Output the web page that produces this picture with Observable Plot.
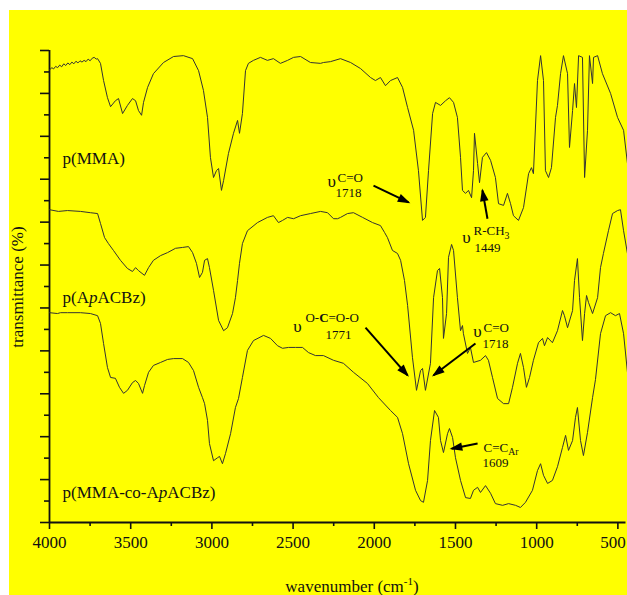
<!DOCTYPE html>
<html><head><meta charset="utf-8">
<script src="https://cdn.jsdelivr.net/npm/d3@7"></script>
<script src="https://cdn.jsdelivr.net/npm/@observablehq/plot@0.6"></script>
<style>
html,body{margin:0;padding:0;background:#fff;}
#wrap{position:relative;width:627px;height:595px;overflow:hidden;font-family:'Liberation Serif','Times New Roman',serif;color:#111;}
#bg{position:absolute;left:9px;top:10px;width:618px;height:585px;background:#ffff00;}
#chart{position:absolute;left:0;top:0;}
#ylab{position:absolute;left:18px;top:287px;transform:translate(-50%,-50%) rotate(-90deg);white-space:nowrap;font-size:17px;}
#xlab{position:absolute;left:352px;top:586px;transform:translate(-50%,-50%);white-space:nowrap;font-size:17px;}
#xlab sup{font-size:11px;}
</style></head><body>
<div id="wrap"><div id="bg"></div><div id="chart"></div>
<div id="ylab">transmittance (%)</div>
<div id="xlab">wavenumber (cm<sup>-1</sup>)</div>
</div>
<script>
// ---- data: [wavenumber (cm-1), transmittance (offset, a.u.)] ----
const pMMA = [[4000,105.5],[3985,106.0],[3975,105.7],[3962,106.3],[3950,106.0],[3937,106.6],[3925,106.2],[3912,106.9],[3900,106.5],[3887,107.1],[3875,106.7],[3862,107.3],[3850,106.9],[3837,107.5],[3825,107.1],[3812,107.6],[3800,107.3],[3787,107.7],[3775,107.4],[3762,108.0],[3750,107.6],[3737,108.2],[3725,108.4],[3712,108.0],[3704,108.1],
[3686,107.0],[3667,103.0],[3643,99.0],[3624,96.9],[3594,98.3],[3575,98.8],[3550,95.3],[3520,97.2],[3489,98.8],[3470,98.3],[3452,96.0],[3433,94.9],[3421,97.9],[3396,101.4],[3360,104.6],[3298,107.2],[3236,108.6],[3175,108.8],[3119,108.1],[3082,105.3],[3052,100.7],[3027,94.4],[3009,85.1],[2990,80.4],[2972,82.0],[2959,82.5],[2941,77.4],[2928,79.7],[2898,86.0],[2867,90.7],[2842,93.7],[2830,90.7],[2812,95.3],[2793,105.3],[2775,107.0],[2744,107.7],[2701,108.4],[2658,107.7],[2621,108.1],[2578,107.0],[2534,107.7],[2497,108.4],[2454,108.6],[2393,107.2],[2331,107.0],[2313,107.2],[2270,107.4],[2208,108.1],[2146,107.2],[2085,105.8],[2023,103.7],[1993,103.0],[1962,103.7],[1931,101.8],[1900,103.0],[1857,103.7],[1826,101.4],[1795,96.7],[1758,91.4],[1728,82.0],[1703,70.4],[1685,71.1],[1666,82.0],[1641,95.3],[1623,97.9],[1592,97.2],[1561,98.3],[1537,99.0],[1512,97.9],[1488,94.4],[1469,85.1],[1457,77.4],[1438,76.7],[1420,77.4],[1401,75.7],[1389,82.0],[1383,90.7],[1364,83.7],[1352,79.2],[1334,85.1],[1309,86.2],[1284,84.4],[1254,80.4],[1235,74.3],[1204,73.9],[1180,76.7],[1161,74.3],[1143,71.5],[1112,70.4],[1081,73.4],[1050,81.3],[1032,82.7],[1020,81.3],[995,103.0],[976,108.8],[958,103.0],[946,82.0],[927,80.4],[909,82.7],[884,94.4],[872,97.2],[853,104.6],[835,108.8],[810,104.6],[798,87.4],[779,96.0],[767,102.3],[755,96.7],[742,108.8],[718,108.4],[705,80.4],[687,91.4],[675,108.8],[656,102.3],[650,108.4],[625,108.8],[595,104.6],[545,100.0],[502,94.4],[465,91.4],[441,83.7]];

const pApACBz = [[4000,72.9],[3945,72.5],[3889,72.7],[3809,72.5],[3748,72.2],[3704,72.0],[3686,69.7],[3661,66.4],[3637,65.0],[3606,63.4],[3563,61.1],[3520,59.2],[3489,58.5],[3470,59.4],[3452,58.7],[3415,57.6],[3390,59.4],[3360,61.1],[3316,62.2],[3273,62.9],[3224,63.9],[3181,64.1],[3144,64.3],[3119,62.9],[3095,60.4],[3076,57.1],[3058,58.3],[3045,61.1],[3027,61.5],[3015,59.4],[2990,54.1],[2959,47.1],[2928,44.7],[2904,45.4],[2873,48.7],[2855,52.4],[2842,56.4],[2830,60.4],[2812,65.0],[2781,68.0],[2719,69.9],[2658,71.1],[2621,71.5],[2590,69.9],[2565,70.4],[2534,71.1],[2497,70.8],[2454,71.5],[2393,72.0],[2331,72.5],[2288,72.2],[2251,70.8],[2226,70.8],[2208,71.1],[2165,72.0],[2128,72.2],[2072,71.1],[2011,69.9],[1962,69.2],[1937,67.6],[1919,66.4],[1888,63.4],[1857,62.7],[1838,61.1],[1814,56.4],[1795,50.6],[1765,38.5],[1740,30.8],[1715,35.4],[1703,35.9],[1685,30.8],[1654,37.1],[1635,52.4],[1611,58.7],[1598,59.2],[1580,52.4],[1574,42.9],[1555,48.7],[1543,61.8],[1524,64.8],[1512,63.4],[1488,52.4],[1469,44.7],[1457,45.9],[1451,44.0],[1426,39.4],[1408,40.8],[1389,37.3],[1346,37.8],[1315,38.9],[1297,37.8],[1272,33.8],[1241,28.9],[1204,27.7],[1173,27.7],[1149,31.5],[1118,37.1],[1100,39.4],[1081,36.1],[1063,31.5],[1044,33.8],[1020,37.8],[989,41.9],[964,42.9],[952,41.2],[933,43.1],[903,41.9],[872,44.7],[841,49.4],[829,48.2],[810,45.4],[779,49.4],[767,56.4],[749,61.5],[736,52.4],[718,42.4],[705,48.7],[693,52.9],[681,51.3],[656,48.7],[625,52.4],[607,59.4],[589,62.7],[558,68.0],[533,72.0],[502,72.7],[484,72.9],[465,68.0],[441,62.7]];

const pCopolymer = [[4000,48.9],[3951,48.7],[3932,48.9],[3889,48.9],[3809,48.9],[3748,48.7],[3704,48.2],[3686,46.4],[3667,41.7],[3643,36.1],[3624,33.8],[3594,33.6],[3569,31.5],[3544,30.1],[3520,30.8],[3489,32.6],[3470,33.1],[3452,32.4],[3427,30.1],[3415,31.9],[3390,35.0],[3360,36.6],[3316,37.3],[3273,38.0],[3236,38.2],[3181,38.2],[3144,37.3],[3113,35.4],[3082,31.5],[3058,29.1],[3045,27.7],[3027,23.8],[3015,18.4],[2990,14.4],[2965,15.1],[2953,15.4],[2935,13.7],[2916,16.1],[2885,20.7],[2855,26.8],[2836,28.9],[2812,33.8],[2781,40.1],[2744,42.4],[2682,43.6],[2639,42.9],[2596,41.2],[2565,40.6],[2528,40.8],[2485,40.8],[2442,40.8],[2405,39.6],[2362,38.9],[2313,38.9],[2251,37.8],[2190,37.1],[2128,35.0],[2042,32.4],[1974,29.1],[1900,26.1],[1857,24.5],[1826,20.7],[1789,13.7],[1746,7.5],[1715,5.1],[1697,4.7],[1672,9.8],[1654,19.1],[1629,26.1],[1605,24.5],[1592,19.1],[1574,16.3],[1549,20.7],[1537,21.9],[1518,19.8],[1500,15.1],[1469,9.8],[1438,5.8],[1408,5.6],[1389,7.5],[1364,8.2],[1346,7.0],[1315,8.6],[1284,6.8],[1254,4.4],[1210,4.0],[1173,4.4],[1130,4.0],[1100,3.5],[1069,4.7],[1026,7.5],[995,12.1],[976,13.7],[958,11.0],[933,9.1],[903,9.8],[872,13.0],[841,17.5],[822,20.3],[804,16.8],[779,19.1],[761,24.5],[749,26.8],[730,19.1],[712,15.6],[687,21.0],[656,29.1],[638,33.3],[607,44.0],[576,48.2],[545,48.9],[515,48.2],[490,48.7],[465,44.0],[441,35.0]];

const seriesNames = ["p(MMA)", "p(ApACBz)", "p(MMA-co-ApACBz)"];
const seriesLabels = ["p(MMA)", "p(A<i>p</i>ACBz)", "p(MMA-co-A<i>p</i>ACBz)"];
const seriesLabelAt = [[3920, 84.8], [3920, 52.4], [3920, 7.0]];

const xDomain = [4000, 450];
const yDomain = [0, 110];
const xMajorTicks = [4000, 3500, 3000, 2500, 2000, 1500, 1000, 500];
const xMinorTicks = [3750, 3250, 2750, 2250, 1750, 1250, 750];
const yMajorTicks = [0, 10, 20, 30, 40, 50, 60, 70, 80, 90, 100, 110];
const yMinorTicks = [5, 15, 25, 35, 45, 55, 65, 75, 85, 95, 105];

// annotation symbols (upsilon), labels and band positions: [wavenumber, transmittance, text]
const annUpsilon = [[2263, 79.5, "υ"], [1432, 66.4, "υ"], [2473, 45.7, "υ"], [1364, 44.5, "υ"]];
const annBond = [[2226, 80.4, "C=O"], [1389, 68.0, "R-CH<sub>3</sub>"], [2424, 47.8, "O-<b>C</b>=O-O"], [1327, 45.4, "C=O"], [1327, 17.5, "C=C<sub>Ar</sub>"]];
const annBand = [[2159, 76.9, "1718"], [1303, 63.9, "1449"], [2220, 43.8, "1771"], [1253, 41.7, "1718"], [1253, 14.0, "1609"]];
// arrows: [from wn, from T, to wn, to T]
const arrows = [
  [2005, 78.5, 1789, 74.6],
  [1303, 70.8, 1334, 77.4],
  [2054, 45.4, 1795, 34.3],
  [1377, 41.7, 1635, 34.3],
  [1364, 18.4, 1524, 17.2]
];

const rows = [];
[pMMA, pApACBz, pCopolymer].forEach((s, k) => s.forEach(([w, t]) => rows.push({w, t, s: seriesNames[k]})));

const plot = Plot.plot({
  width: 627, height: 595,
  marginLeft: 49, marginTop: 50, marginRight: 1.5, marginBottom: 73,
  style: {background: "transparent", fontFamily: "'Liberation Serif','Times New Roman',serif", color: "#111"},
  x: {domain: xDomain, label: null},
  y: {domain: yDomain, label: null},
  marks: [
    Plot.axisX({ticks: xMajorTicks.slice(0, -1), tickSize: 7, tickPadding: 6, tickFormat: d => String(d), fontSize: 17, label: null, strokeWidth: 1.6}),
    Plot.axisX({ticks: xMajorTicks.slice(-1), tickSize: 7, tickFormat: () => "", label: null, strokeWidth: 1.6}),
    Plot.axisX({ticks: xMajorTicks.slice(-1), tickSize: 0, tickPadding: 13, dx: -5, tickFormat: d => String(d), fontSize: 17, label: null}),
    Plot.axisX({ticks: xMinorTicks, tickSize: 4, tickFormat: () => "", label: null, strokeWidth: 1.6}),
    Plot.axisY({ticks: yMajorTicks, tickSize: 9, tickFormat: () => "", label: null, strokeWidth: 1.6}),
    Plot.axisY({ticks: yMinorTicks, tickSize: 5, tickFormat: () => "", label: null, strokeWidth: 1.6}),
    Plot.ruleY([yDomain[0]], {stroke: "#111", strokeWidth: 1.8}),
    Plot.ruleX([xDomain[0]], {stroke: "#111", strokeWidth: 1.8}),
    Plot.line(rows, {x: "w", y: "t", z: "s", stroke: "#333", strokeWidth: 1}),
    Plot.text(seriesLabels, {x: (d, i) => seriesLabelAt[i][0], y: (d, i) => seriesLabelAt[i][1], text: d => d, textAnchor: "start", fontSize: 17, fill: "#111"}),
    Plot.text(annUpsilon, {x: d => d[0], y: d => d[1], text: d => d[2], fontSize: 17, textAnchor: "middle", fill: "#111"}),
    Plot.text(annBond, {x: d => d[0], y: d => d[1], text: d => d[2], fontSize: 13, textAnchor: "start", fill: "#111"}),
    Plot.text(annBand, {x: d => d[0], y: d => d[1], text: d => d[2], fontSize: 13, textAnchor: "middle", fill: "#111"}),
    Plot.link(arrows, {x1: d => d[0], y1: d => d[1], x2: d => d[2], y2: d => d[3], stroke: "#000", strokeWidth: 2, markerEnd: "arrow"})
  ]
});

// rich text (italic, bold, sub/superscript) inside SVG text elements
const SVGNS = "http://www.w3.org/2000/svg";
plot.querySelectorAll("text").forEach(t => {
  const s = t.textContent;
  if (!/<(i|b|sub|sup)>/.test(s)) return;
  const parts = s.split(/(<\/?(?:i|b|sub|sup)>)/).filter(p => p !== "");
  while (t.firstChild) t.removeChild(t.firstChild);
  const st = {i: false, b: false, sub: false, sup: false};
  let off = 0;
  parts.forEach(p => {
    const m = p.match(/^<(\/?)(i|b|sub|sup)>$/);
    if (m) { st[m[2]] = !m[1]; return; }
    const ts = document.createElementNS(SVGNS, "tspan");
    ts.textContent = p;
    if (st.i) ts.setAttribute("font-style", "italic");
    if (st.b) ts.setAttribute("font-weight", "bold");
    const small = st.sub || st.sup;
    const target = st.sub ? 0.3 : st.sup ? -0.4 : 0;
    if (small) ts.setAttribute("font-size", "75%");
    const delta = target - off;
    if (delta !== 0) ts.setAttribute("dy", (small ? delta / 0.75 : delta) + "em");
    off = target;
    t.appendChild(ts);
  });
});
// filled triangular arrow heads
plot.querySelectorAll("marker").forEach(mk => {
  mk.setAttribute("overflow", "visible");
  const p = mk.querySelector("path");
  if (p) {
    p.setAttribute("d", "M-8,-3.2L1.5,0L-8,3.2Z");
    p.setAttribute("fill", "#000");
    p.setAttribute("stroke", "none");
  }
});
document.getElementById("chart").appendChild(plot);
</script>
</body></html>
